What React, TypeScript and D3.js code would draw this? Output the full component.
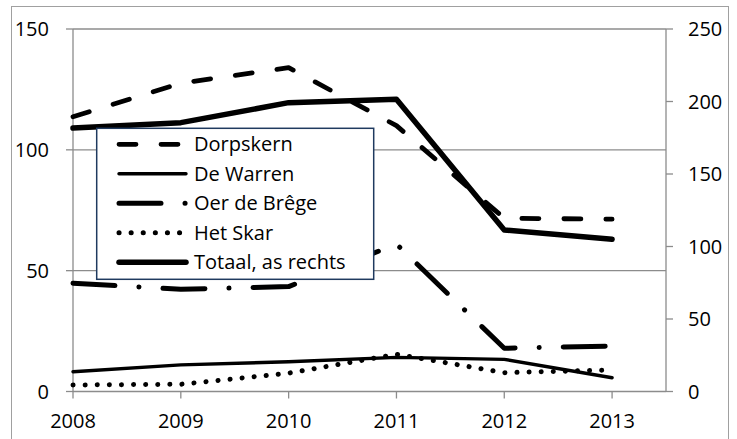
import * as d3 from 'd3'

const years = [2008, 2009, 2010, 2011, 2012, 2013]
const dorpskern = [113.7, 127.6, 134, 110, 71.7, 71.3]
const deWarren = [8.2, 11.0, 12.3, 14.1, 13.3, 5.7]
const oerDeBrege = [44.8, 42.3, 43.4, 61, 17.9, 18.8]
const hetSkar = [2.7, 3.0, 7.6, 15.4, 7.8, 8.9]
const totaal = [181.7, 185.4, 199.2, 201.5, 111.4, 105]

const leftTicks = [0, 50, 100, 150]
const rightTicks = [0, 50, 100, 150, 200, 250]

type Style = { width: number; dash?: string }

const seriesDefs: { name: string; values: number[]; axis: 'l' | 'r'; style: Style }[] = [
  { name: 'Dorpskern', values: dorpskern, axis: 'l', style: { width: 4.8, dash: '17 25' } },
  { name: 'De Warren', values: deWarren, axis: 'l', style: { width: 3.4 } },
  { name: 'Oer de Brêge', values: oerDeBrege, axis: 'l', style: { width: 5, dash: '42 24 0.1 24' } },
  { name: 'Het Skar', values: hetSkar, axis: 'l', style: { width: 5, dash: '0.1 12' } },
  { name: 'Totaal, as rechts', values: totaal, axis: 'r', style: { width: 5.5 } },
]

const W = 737
const H = 439
const plot = { left: 73, right: 666, top: 29, bottom: 391.5 }
const font = '"Open Sans", sans-serif'
const axisColor = '#8c8c8c'
const fs = 20

export default function App() {
  const x = d3.scaleLinear().domain([2008, 2013.5]).range([plot.left, plot.right])
  const yL = d3.scaleLinear().domain([0, 150]).range([plot.bottom, plot.top])
  const yR = d3.scaleLinear().domain([0, 250]).range([plot.bottom, plot.top])

  const lineFor = (axis: 'l' | 'r') =>
    d3
      .line<number>()
      .x((_, i) => x(years[i]))
      .y((v) => (axis === 'l' ? yL(v) : yR(v)))

  const legend = { x: 96.7, y: 128.3, w: 277, h: 151, row0: 144.3, rowStep: 29.5 }

  return (
    <svg width={W} height={H} style={{ position: 'absolute', left: 0, top: 0, background: '#fff' }}>
      <rect x={11.5} y={6.5} width={717} height={440} fill="#fff" stroke="#a0a0a0" strokeWidth={1} />

      {/* gridlines */}
      {leftTicks.slice(1).map((t) => (
        <line key={t} x1={plot.left} x2={plot.right} y1={yL(t)} y2={yL(t)} stroke={axisColor} strokeWidth={1.3} />
      ))}

      {/* left axis */}
      <line x1={plot.left} x2={plot.left} y1={plot.top} y2={plot.bottom} stroke={axisColor} strokeWidth={1.3} />
      {leftTicks.map((t) => (
        <g key={t}>
          <line x1={plot.left - 7} x2={plot.left} y1={yL(t)} y2={yL(t)} stroke={axisColor} strokeWidth={1.3} />
          <text x={49} y={yL(t)} dy="0.35em" textAnchor="end" fontFamily={font} fontSize={fs} fill="#000">
            {t}
          </text>
        </g>
      ))}

      {/* right axis */}
      <line x1={plot.right} x2={plot.right} y1={plot.top} y2={plot.bottom} stroke={axisColor} strokeWidth={1.3} />
      {rightTicks.map((t) => (
        <g key={t}>
          <line x1={plot.right} x2={plot.right + 7} y1={yR(t)} y2={yR(t)} stroke={axisColor} strokeWidth={1.3} />
          <text x={688} y={yR(t)} dy="0.35em" textAnchor="start" fontFamily={font} fontSize={fs} fill="#000">
            {t}
          </text>
        </g>
      ))}

      {/* x axis */}
      <line x1={plot.left} x2={plot.right} y1={plot.bottom} y2={plot.bottom} stroke={axisColor} strokeWidth={1.3} />
      {years.map((yr) => (
        <g key={yr}>
          <line x1={x(yr)} x2={x(yr)} y1={plot.bottom} y2={plot.bottom + 7} stroke={axisColor} strokeWidth={1.3} />
          <text x={x(yr)} y={421} dy="0.35em" textAnchor="middle" fontFamily={font} fontSize={fs} fill="#000">
            {yr}
          </text>
        </g>
      ))}

      {/* series */}
      {seriesDefs.map((s) => (
        <path
          key={s.name}
          d={lineFor(s.axis)(s.values) ?? ''}
          fill="none"
          stroke="#000"
          strokeWidth={s.style.width}
          strokeDasharray={s.style.dash}
          strokeLinecap="round"
          strokeLinejoin="round"
        />
      ))}

      {/* legend */}
      <rect x={legend.x} y={legend.y} width={legend.w} height={legend.h} fill="#fff" stroke="#1f3a5f" strokeWidth={1.5} />
      {seriesDefs.map((s, i) => {
        const cy = legend.row0 + i * legend.rowStep
        return (
          <g key={s.name}>
            <line
              x1={119}
              x2={186}
              y1={cy}
              y2={cy}
              stroke="#000"
              strokeWidth={s.style.width}
              strokeDasharray={s.style.dash}
              strokeLinecap="round"
            />
            <text x={194} y={cy} dy="0.35em" fontFamily={font} fontSize={fs} fill="#000">
              {s.name}
            </text>
          </g>
        )
      })}
    </svg>
  )
}
